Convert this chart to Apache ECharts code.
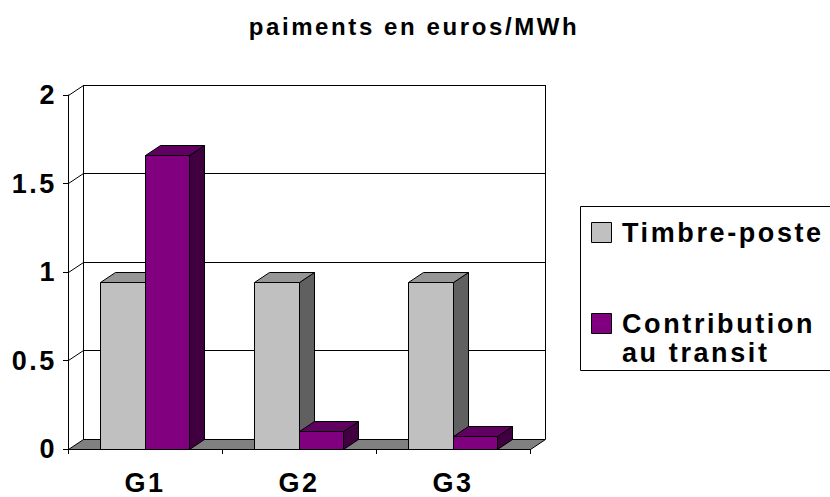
<!DOCTYPE html>
<html>
<head>
<meta charset="utf-8">
<script src="https://cdn.jsdelivr.net/npm/echarts@6/dist/echarts.min.js"></script>
<style>
  html, body { margin: 0; padding: 0; background: #fff; }
  #chart { width: 830px; height: 497px; }
  /* Excel-style loose lettering */
  #chart text { letter-spacing: 2.6px; }
</style>
</head>
<body>
<div id="chart"></div>
<script>
// ---- data ----
const titleText = 'paiments en euros/MWh';
const categories = ['G1', 'G2', 'G3'];
const timbrePoste = [0.94, 0.94, 0.94];
const contributionTransit = [1.66, 0.10, 0.07];
const seriesNames = ['Timbre-poste', 'Contribution au transit'];
const legendLabels = ['Timbre-poste', 'Contribution\nau transit'];
const yTicks = [0, 0.5, 1, 1.5, 2];

// ---- look ----
const FONT = '"Liberation Sans", Arial, Helvetica, sans-serif';
const FRONT = { left: 68, top: 95, width: 462, height: 354 };
const DEPTH = [15, -10];               // shift from front plane to back wall
const BAR_RATIO = 0.286;               // bar width as a share of a category band
const faces = [
  { front: '#C0C0C0', top: '#969696', side: '#606060' },
  { front: '#800080', top: '#600060', side: '#400040' }
];
const edge = { stroke: '#000', lineWidth: 1, lineJoin: 'miter' };
const crisp = v => Math.round(v - 0.5) + 0.5;

function barRenderer(slot) {
  const f = faces[slot];
  return function (params, api) {
    const i = api.value(0);
    const v = api.value(1);
    const base = api.coord([i, 0]);
    const top = api.coord([i, v]);
    const w = api.size([1, 0])[0] * BAR_RATIO;
    const x0 = crisp(base[0] - w + slot * w);
    const x1 = crisp(base[0] + slot * w);
    const yt = crisp(top[1]);
    const yb = crisp(base[1]);
    const dx = DEPTH[0], dy = DEPTH[1];
    return {
      type: 'group',
      children: [
        { type: 'polygon', shape: { points: [[x1, yt], [x1 + dx, yt + dy], [x1 + dx, yb + dy], [x1, yb]] },
          style: Object.assign({ fill: f.side }, edge) },
        { type: 'polygon', shape: { points: [[x0, yt], [x1, yt], [x1 + dx, yt + dy], [x0 + dx, yt + dy]] },
          style: Object.assign({ fill: f.top }, edge) },
        { type: 'rect', shape: { x: x0, y: yt, width: x1 - x0, height: yb - yt },
          style: Object.assign({ fill: f.front }, edge) }
      ]
    };
  };
}

function floorRenderer(params, api) {
  const cs = params.coordSys;
  const y = crisp(api.coord([0, yTicks[0]])[1]);
  const xl = crisp(cs.x), xr = crisp(cs.x + cs.width);
  const dx = DEPTH[0], dy = DEPTH[1];
  return {
    type: 'polygon',
    shape: { points: [[xl, y], [xr, y], [xr + dx, y + dy], [xl + dx, y + dy]] },
    style: Object.assign({ fill: '#808080' }, edge)
  };
}

function sideWallRenderer(params, api) {
  const cs = params.coordSys;
  const y = crisp(api.coord([0, api.value(1)])[1]);
  const x = crisp(cs.x);
  return {
    type: 'line',
    shape: { x1: x, y1: y, x2: x + DEPTH[0], y2: y + DEPTH[1] },
    style: { stroke: '#000', lineWidth: 1 }
  };
}

const labelStyle = { color: '#000', fontFamily: FONT, fontWeight: 'bold', fontSize: 27 };
const yMin = yTicks[0], yMax = yTicks[yTicks.length - 1], yStep = yTicks[1] - yTicks[0];

// legend drawn as a framed box beside the plot
const legendX = 580, legendY = 207;
const legendItems = [];
legendItems.push({
  type: 'rect', shape: { x: legendX + 0.5, y: legendY - 0.5, width: 300, height: 164 },
  style: { fill: '#fff', stroke: '#000', lineWidth: 1 }, z: 1
});
const legendRows = [232.5, 323.5];
legendLabels.forEach((name, k) => {
  legendItems.push({
    type: 'rect', shape: { x: legendX + 11.5, y: legendRows[k] - 10, width: 20, height: 20 },
    style: { fill: faces[k].front, stroke: '#000', lineWidth: 1 }, z: 2
  });
  legendItems.push({
    type: 'text', x: legendX + 42, y: legendRows[k] - 14.5, z: 2,
    style: { text: name, fill: '#000', font: 'bold 27px ' + FONT, lineHeight: 29,
             textAlign: 'left', textVerticalAlign: 'top', verticalAlign: 'top' }
  });
});

const chart = echarts.init(document.getElementById('chart'), null, { renderer: 'svg' });
chart.setOption({
  animation: false,
  backgroundColor: '#fff',
  title: {
    text: titleText, left: 409, top: 9, textAlign: 'center',
    textStyle: { color: '#000', fontFamily: FONT, fontWeight: 'bold', fontSize: 24 }
  },
  grid: [
    Object.assign({}, FRONT),
    { left: FRONT.left + DEPTH[0], top: FRONT.top + DEPTH[1], width: FRONT.width, height: FRONT.height }
  ],
  xAxis: [
    {
      type: 'category', gridIndex: 0, data: categories,
      axisLine: { lineStyle: { color: '#000', width: 1 } },
      axisTick: { show: true, length: 5, lineStyle: { color: '#000' } },
      axisLabel: Object.assign({ margin: 20 }, labelStyle),
      splitLine: { show: false }
    },
    {
      type: 'value', gridIndex: 1, min: 0, max: categories.length, interval: categories.length,
      axisLine: { show: false }, axisTick: { show: false }, axisLabel: { show: false },
      splitLine: { show: true, lineStyle: { color: '#000', width: 1 } }
    }
  ],
  yAxis: [
    {
      type: 'value', gridIndex: 0, min: yMin, max: yMax, interval: yStep,
      axisLine: { show: true, lineStyle: { color: '#000', width: 1 } },
      axisTick: { show: true, length: 5, lineStyle: { color: '#000' } },
      axisLabel: Object.assign({ margin: 11 }, labelStyle),
      splitLine: { show: false }
    },
    {
      type: 'value', gridIndex: 1, min: yMin, max: yMax, interval: yStep,
      axisLine: { show: false }, axisTick: { show: false }, axisLabel: { show: false },
      splitLine: { show: true, lineStyle: { color: '#000', width: 1 } }
    }
  ],
  series: [
    {
      type: 'custom', name: 'floor', xAxisIndex: 0, yAxisIndex: 0, z: 2,
      data: [[0, yTicks[0]]], renderItem: floorRenderer, silent: true
    },
    {
      type: 'custom', name: 'side wall', xAxisIndex: 0, yAxisIndex: 0, z: 2,
      data: yTicks.slice(1).map(v => [0, v]), renderItem: sideWallRenderer, silent: true
    },
    {
      type: 'custom', name: seriesNames[0], xAxisIndex: 0, yAxisIndex: 0, z: 3,
      data: timbrePoste.map((v, i) => [i, v]), renderItem: barRenderer(0)
    },
    {
      type: 'custom', name: seriesNames[1], xAxisIndex: 0, yAxisIndex: 0, z: 3,
      data: contributionTransit.map((v, i) => [i, v]), renderItem: barRenderer(1)
    }
  ],
  graphic: legendItems
});
</script>
</body>
</html>
